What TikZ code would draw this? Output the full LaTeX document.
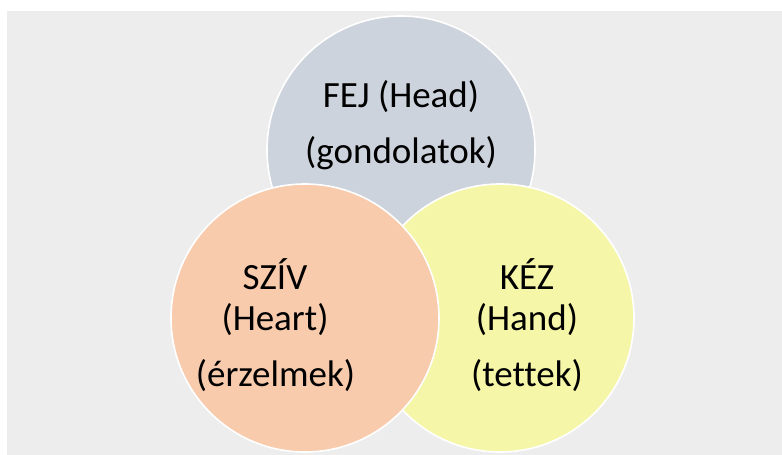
\documentclass[tikz,border=0pt]{standalone}
\usepackage{fontspec}
\setmainfont[Ligatures=NoCommon]{Carlito}
\definecolor{bggray}{HTML}{EDEDED}
\definecolor{headfill}{HTML}{CDD3DC}
\definecolor{heartfill}{HTML}{F8CBAD}
\definecolor{handfill}{HTML}{F5F6A7}
\tikzset{
  venn/.style={draw=white, line width=1.6pt},
  lbl/.style={anchor=base, inner sep=0pt, font=\fontsize{37}{44}\selectfont, text=black}
}
\begin{document}
\begin{tikzpicture}[x=1pt,y=-1pt]
\useasboundingbox (0,0) rectangle (782,455);
\fill[white] (0,0) rectangle (782,455);
\fill[bggray] (7,11) rectangle (782,455);
\path[venn, fill=headfill] (401,150) circle[radius=134];
\path[venn, fill=handfill] (500,318) circle[radius=134];
\path[venn, fill=heartfill] (305,318) circle[radius=134];
\node[lbl] (h1) at (401,107) {FEJ (Head)};
\node[lbl] (h2) at (401,163) {(gondolatok)};
\node[lbl] (s1) at (275,289) {SZÍV};
\node[lbl] (s2) at (275,330) {(Heart)};
\node[lbl] (s3) at (275.5,386) {(érzelmek)};
\node[lbl] (k1) at (527,289) {KÉZ};
\node[lbl] (k2) at (527,330) {(Hand)};
\node[lbl] (k3) at (527,386) {(tettek)};
\end{tikzpicture}
\end{document}
